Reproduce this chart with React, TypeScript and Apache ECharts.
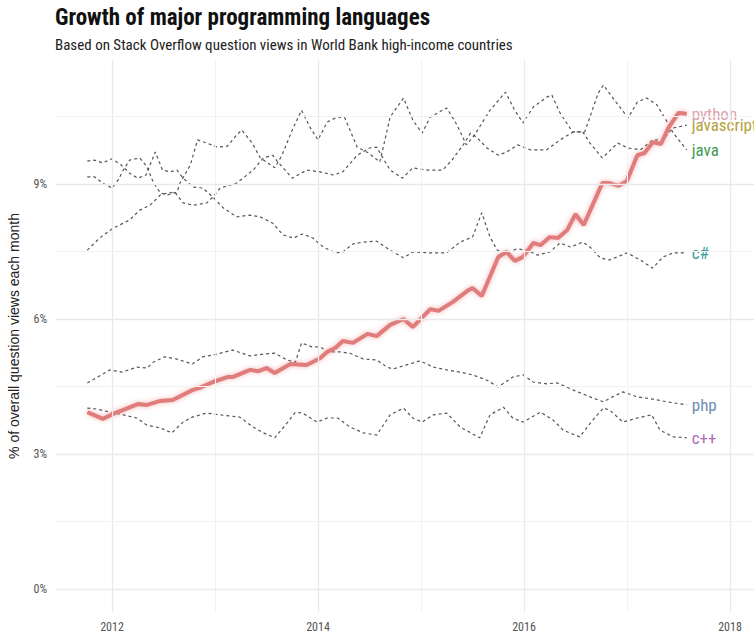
import React, { useEffect, useRef } from 'react';
import * as echarts from 'echarts';

// [decimal year, % of question views]
const python: [number, number][] = [
  [2011.76, 3.93], [2011.91, 3.78], [2012.01, 3.89], [2012.11, 3.98], [2012.25, 4.11], [2012.34, 4.09],
  [2012.47, 4.18], [2012.59, 4.2], [2012.78, 4.42], [2012.85, 4.47], [2012.98, 4.6], [2013.12, 4.71],
  [2013.17, 4.71], [2013.34, 4.87], [2013.42, 4.84], [2013.5, 4.91], [2013.58, 4.8], [2013.73, 5.0],
  [2013.89, 4.98], [2014.02, 5.13], [2014.09, 5.27], [2014.17, 5.36], [2014.24, 5.51], [2014.34, 5.47],
  [2014.48, 5.67], [2014.57, 5.62], [2014.7, 5.87], [2014.83, 6.0], [2014.92, 5.82], [2015.09, 6.22],
  [2015.17, 6.18], [2015.31, 6.38], [2015.46, 6.64], [2015.5, 6.69], [2015.59, 6.51], [2015.75, 7.38],
  [2015.83, 7.49], [2015.91, 7.29], [2015.99, 7.38], [2016.09, 7.69], [2016.16, 7.64], [2016.25, 7.82],
  [2016.33, 7.8], [2016.42, 7.98], [2016.5, 8.33], [2016.58, 8.09], [2016.76, 9.02], [2016.83, 9.02],
  [2016.92, 8.96], [2017.0, 9.07], [2017.1, 9.64], [2017.17, 9.69], [2017.25, 9.93], [2017.33, 9.89],
  [2017.4, 10.24], [2017.5, 10.58], [2017.58, 10.56]
];

const java: [number, number][] = [
  [2011.76, 9.16], [2011.83, 9.16], [2011.91, 9.02], [2012.0, 8.91], [2012.06, 9.09], [2012.11, 9.31],
  [2012.17, 9.53], [2012.27, 9.58], [2012.34, 9.38], [2012.4, 9.04], [2012.47, 8.8], [2012.54, 8.76],
  [2012.63, 8.82], [2012.66, 9.02], [2012.76, 9.42], [2012.83, 9.98], [2012.92, 9.91], [2013.02, 9.82],
  [2013.12, 9.84], [2013.21, 10.09], [2013.26, 10.2], [2013.36, 9.91], [2013.44, 9.58], [2013.58, 9.36],
  [2013.65, 9.64], [2013.75, 10.2], [2013.84, 10.64], [2013.92, 10.27], [2014.0, 9.98], [2014.09, 10.38],
  [2014.19, 10.49], [2014.26, 10.47], [2014.38, 9.82], [2014.49, 9.69], [2014.6, 9.49], [2014.65, 9.98],
  [2014.7, 10.49], [2014.83, 10.91], [2014.92, 10.42], [2015.01, 10.13], [2015.09, 10.49], [2015.25, 10.69],
  [2015.35, 10.31], [2015.44, 9.87], [2015.52, 10.09], [2015.67, 10.64], [2015.82, 11.04], [2015.91, 10.64],
  [2015.99, 10.36], [2016.09, 10.71], [2016.22, 10.93], [2016.27, 10.98], [2016.35, 10.58], [2016.47, 10.16],
  [2016.59, 10.16], [2016.64, 10.49], [2016.72, 11.02], [2016.77, 11.2], [2016.9, 10.8], [2017.01, 10.47],
  [2017.1, 10.82], [2017.19, 10.91], [2017.29, 10.76], [2017.39, 10.38], [2017.45, 10.13], [2017.58, 9.76]
];

const javascript: [number, number][] = [
  [2011.76, 7.53], [2011.88, 7.8], [2012.01, 8.02], [2012.11, 8.13], [2012.17, 8.2], [2012.27, 8.42],
  [2012.37, 8.53], [2012.47, 8.76], [2012.54, 8.8], [2012.61, 8.82], [2012.69, 8.58], [2012.79, 8.53],
  [2012.92, 8.58], [2012.98, 8.71], [2013.05, 8.91], [2013.21, 9.02], [2013.37, 9.31], [2013.47, 9.58],
  [2013.56, 9.64], [2013.61, 9.49], [2013.75, 9.13], [2013.89, 9.31], [2014.02, 9.27], [2014.15, 9.2],
  [2014.24, 9.27], [2014.38, 9.64], [2014.5, 9.8], [2014.57, 9.82], [2014.63, 9.58], [2014.7, 9.31],
  [2014.82, 9.13], [2014.92, 9.36], [2015.06, 9.31], [2015.21, 9.31], [2015.3, 9.53], [2015.41, 9.87],
  [2015.48, 10.13], [2015.54, 10.04], [2015.64, 9.8], [2015.75, 9.64], [2015.83, 9.71], [2015.94, 9.87],
  [2016.06, 9.76], [2016.22, 9.76], [2016.35, 9.98], [2016.48, 10.16], [2016.57, 10.16], [2016.64, 9.91],
  [2016.76, 9.58], [2016.91, 9.91], [2017.01, 9.8], [2017.13, 9.76], [2017.25, 9.98], [2017.35, 9.98],
  [2017.44, 10.24], [2017.58, 10.31]
];

const csharp: [number, number][] = [
  [2011.76, 9.51], [2011.83, 9.53], [2011.91, 9.47], [2012.0, 9.56], [2012.09, 9.42], [2012.17, 9.24],
  [2012.25, 9.13], [2012.33, 9.2], [2012.42, 9.71], [2012.49, 9.31], [2012.56, 9.27], [2012.63, 9.31],
  [2012.69, 9.13], [2012.79, 8.93], [2012.88, 8.91], [2012.98, 8.71], [2013.08, 8.47], [2013.21, 8.27],
  [2013.34, 8.31], [2013.44, 8.27], [2013.56, 8.13], [2013.66, 7.87], [2013.76, 7.8], [2013.85, 7.89],
  [2013.95, 7.8], [2014.05, 7.6], [2014.17, 7.47], [2014.24, 7.49], [2014.34, 7.67], [2014.44, 7.71],
  [2014.57, 7.73], [2014.7, 7.53], [2014.83, 7.36], [2014.92, 7.49], [2015.09, 7.47], [2015.25, 7.47],
  [2015.38, 7.71], [2015.5, 7.82], [2015.59, 8.36], [2015.67, 7.82], [2015.74, 7.53], [2015.83, 7.47],
  [2015.93, 7.56], [2016.03, 7.53], [2016.13, 7.42], [2016.25, 7.49], [2016.35, 7.69], [2016.45, 7.6],
  [2016.57, 7.71], [2016.64, 7.6], [2016.74, 7.36], [2016.83, 7.31], [2017.0, 7.47], [2017.13, 7.31],
  [2017.25, 7.13], [2017.35, 7.38], [2017.45, 7.47], [2017.58, 7.47]
];

const php: [number, number][] = [
  [2011.76, 4.58], [2011.98, 4.87], [2012.1, 4.82], [2012.24, 4.93], [2012.34, 4.91], [2012.4, 5.04],
  [2012.51, 5.16], [2012.63, 5.11], [2012.78, 5.0], [2012.88, 5.16], [2013.02, 5.22], [2013.17, 5.31],
  [2013.34, 5.18], [2013.47, 5.22], [2013.58, 5.24], [2013.7, 5.09], [2013.78, 5.04], [2013.84, 5.47],
  [2013.94, 5.38], [2014.02, 5.38], [2014.1, 5.27], [2014.21, 5.27], [2014.31, 5.24], [2014.44, 5.11],
  [2014.57, 5.09], [2014.67, 4.93], [2014.73, 4.89], [2014.86, 4.98], [2014.99, 5.07], [2015.12, 4.93],
  [2015.25, 4.87], [2015.38, 4.82], [2015.5, 4.76], [2015.64, 4.64], [2015.75, 4.49], [2015.89, 4.71],
  [2015.99, 4.76], [2016.09, 4.6], [2016.22, 4.56], [2016.32, 4.58], [2016.48, 4.42], [2016.64, 4.27],
  [2016.77, 4.16], [2016.86, 4.27], [2016.96, 4.38], [2017.1, 4.27], [2017.25, 4.22], [2017.39, 4.16],
  [2017.58, 4.09]
];

const cpp: [number, number][] = [
  [2011.76, 4.02], [2011.85, 4.0], [2011.98, 3.93], [2012.11, 3.87], [2012.24, 3.8], [2012.34, 3.64],
  [2012.47, 3.58], [2012.58, 3.47], [2012.69, 3.71], [2012.78, 3.82], [2012.92, 3.91], [2013.05, 3.87],
  [2013.24, 3.82], [2013.37, 3.6], [2013.47, 3.47], [2013.58, 3.36], [2013.7, 3.69], [2013.78, 3.93],
  [2013.85, 3.91], [2013.99, 3.71], [2014.09, 3.8], [2014.19, 3.8], [2014.31, 3.6], [2014.44, 3.47],
  [2014.57, 3.42], [2014.7, 3.87], [2014.83, 4.02], [2014.92, 3.8], [2015.01, 3.71], [2015.12, 3.87],
  [2015.25, 3.91], [2015.38, 3.6], [2015.57, 3.36], [2015.67, 3.87], [2015.8, 4.04], [2015.89, 3.8],
  [2015.99, 3.71], [2016.16, 3.93], [2016.28, 3.76], [2016.38, 3.53], [2016.54, 3.38], [2016.67, 3.76],
  [2016.77, 4.02], [2016.83, 3.98], [2016.96, 3.71], [2017.1, 3.8], [2017.24, 3.87], [2017.32, 3.53],
  [2017.45, 3.38], [2017.58, 3.36]
];

const yearLabels = [2012, 2014, 2016, 2018];
const minorYears = [2013, 2015, 2017];
const pctLabels = [0, 3, 6, 9];
const minorPcts = [1.5, 4.5, 7.5, 10.5];

const condensed = "'Liberation Sans Narrow', 'Roboto Condensed', Roboto, sans-serif";

const dashedSeries = (name: string, data: [number, number][], labelColor: string) => ({
  name,
  type: 'line',
  data,
  z: 3,
  symbol: 'none',
  silent: true,
  lineStyle: { color: '#555', width: 1.2, type: [3, 3] },
  endLabel: {
    show: true,
    formatter: name,
    color: labelColor,
    fontSize: 17,
    fontFamily: condensed,
    distance: 5
  }
});

const App: React.FC = () => {
  const chartRef = useRef<HTMLDivElement>(null);

  useEffect(() => {
    if (!chartRef.current) return;
    const chart = echarts.init(chartRef.current, undefined, { renderer: 'svg' });

    const gridLine = (axis: 'xAxis' | 'yAxis', v: number, major: boolean) => ({
      [axis]: v,
      lineStyle: {
        color: major ? '#e9e9ec' : '#f2f2f4',
        width: major ? 1.3 : 1,
        type: 'solid'
      }
    });

    const option: any = {
      animation: false,
      backgroundColor: '#fff',
      title: {
        text: 'Growth of major programming languages',
        subtext: 'Based on Stack Overflow question views in World Bank high-income countries',
        left: 50,
        top: 1,
        itemGap: 8,
        textStyle: { fontSize: 23, fontWeight: 'bold', color: '#111', fontFamily: condensed },
        subtextStyle: { fontSize: 15, color: '#222', fontFamily: condensed }
      },
      grid: { left: 56, right: 0, top: 60, bottom: 27, outerBoundsMode: 'none', containLabel: false },
      xAxis: {
        type: 'value',
        min: 2011.456,
        max: 2018.233,
        axisLine: { show: false },
        axisTick: { show: false },
        splitLine: { show: false },
        axisLabel: {
          customValues: yearLabels,
          formatter: (v: number) => String(v),
          color: '#555',
          fontSize: 12,
          margin: 9,
          fontFamily: condensed
        }
      },
      yAxis: {
        type: 'value',
        min: -0.511,
        max: 11.756,
        name: '% of overall question views each month',
        nameLocation: 'middle',
        nameGap: 35,
        nameTextStyle: { fontSize: 14, color: '#222', fontFamily: "'Liberation Sans', Arial, sans-serif" },
        axisLine: { show: false },
        axisTick: { show: false },
        splitLine: { show: false },
        axisLabel: {
          customValues: pctLabels,
          formatter: (v: number) => v + '%',
          color: '#555',
          fontSize: 12,
          margin: 9,
          fontFamily: condensed
        }
      },
      series: [
        {
          name: 'grid',
          type: 'line',
          data: [],
          z: 1,
          silent: true,
          markLine: {
            silent: true,
            symbol: 'none',
            label: { show: false },
            animation: false,
            data: [
              ...yearLabels.map(v => gridLine('xAxis', v, true)),
              ...minorYears.map(v => gridLine('xAxis', v, false)),
              ...pctLabels.map(v => gridLine('yAxis', v, true)),
              ...minorPcts.map(v => gridLine('yAxis', v, false))
            ]
          }
        },
        dashedSeries('c++', cpp, '#b06cbc'),
        dashedSeries('php', php, '#6e8cb2'),
        dashedSeries('c#', csharp, '#3a9c98'),
        dashedSeries('java', java, '#3f9a55'),
        dashedSeries('javascript', javascript, '#b3a23c'),
        {
          name: 'python',
          type: 'line',
          data: python,
          z: 4,
          symbol: 'none',
          silent: true,
          lineStyle: {
            color: '#e07c7c',
            width: 4,
            shadowColor: 'rgba(235,120,120,0.55)',
            shadowBlur: 5
          },
          endLabel: {
            show: true,
            formatter: 'python',
            color: '#dca2aa',
            fontSize: 17,
            fontFamily: condensed,
            distance: 5
          }
        }
      ]
    };

    chart.setOption(option);

    return () => {
      chart.dispose();
    };
  }, []);

  return (
    <div
      ref={chartRef}
      style={{ position: 'fixed', left: 0, top: 0, width: 754, height: 639 }}
    />
  );
};

export default App;
